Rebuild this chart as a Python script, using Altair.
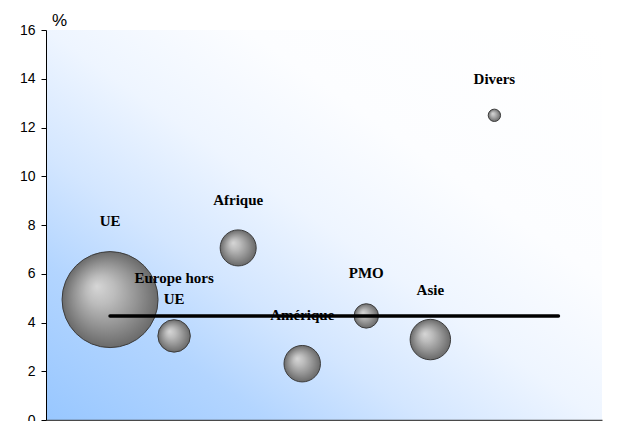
import altair as alt
import pandas as pd

# ---- data ----
regions = ["UE", "Europe hors UE", "Afrique", "Amérique", "PMO", "Asie", "Divers"]
labels = ["UE", "Europe hors\nUE", "Afrique", "Amérique", "PMO", "Asie", "Divers"]
x_index = [1, 2, 3, 4, 5, 6, 7]
growth = [4.94, 3.45, 7.06, 2.31, 4.27, 3.30, 12.50]
weight = [60.3, 6.9, 8.5, 8.7, 3.9, 10.7, 1.0]
label_y = [8.15, 5.82, 9.04, 4.29, 6.05, 5.35, 13.97]
avg_value = [4.27]
avg_start = [1]
avg_end = [8]
y_ticks = [0, 2, 4, 6, 8, 10, 12, 14, 16]

df = pd.DataFrame({
    "region": regions,
    "label": labels,
    "x": x_index,
    "growth": growth,
    "weight": weight,
    "label_y": label_y,
})
df_avg = pd.DataFrame({"avg": avg_value, "start": avg_start, "end": avg_end})

W, H = 556, 390
xscale = alt.Scale(domain=[0, 8.68], nice=False, zero=False)
yscale = alt.Scale(domain=[0, 16], nice=False)

bg_gradient = {
    "gradient": "linear", "x1": 0, "y1": 1, "x2": 1, "y2": 0,
    "stops": [
        {"offset": 0.0, "color": "#98c7ff"},
        {"offset": 0.2, "color": "#b3d5ff"},
        {"offset": 0.34, "color": "#d3e6ff"},
        {"offset": 0.5, "color": "#eef5ff"},
        {"offset": 0.68, "color": "#fcfdff"},
        {"offset": 1.0, "color": "#ffffff"},
    ],
}
ball_gradient = {
    "gradient": "radial", "x1": 0.36, "y1": 0.36, "r1": 0.0,
    "x2": 0.5, "y2": 0.5, "r2": 0.5,
    "stops": [
        {"offset": 0.0, "color": "#d6d6d6"},
        {"offset": 0.3, "color": "#bcbcbc"},
        {"offset": 0.65, "color": "#949494"},
        {"offset": 1.0, "color": "#6a6a6a"},
    ],
}

background = alt.Chart(pd.DataFrame({"d": [0]})).mark_rect(
    fill=bg_gradient, strokeWidth=0
).encode(
    x=alt.value(0), x2=alt.value(W), y=alt.value(0), y2=alt.value(H)
)

bubbles = alt.Chart(df).mark_circle(
    fill=ball_gradient, stroke="#3c3c3c", strokeWidth=1, opacity=1
).encode(
    x=alt.X("x:Q", scale=xscale,
            axis=alt.Axis(labels=False, ticks=False, title=None, grid=False,
                          domainColor="#4a4a4a", domainWidth=1.5, zindex=1)),
    y=alt.Y("growth:Q", scale=yscale,
            axis=alt.Axis(values=y_ticks, title="%", titleAngle=0, titleX=13, titleY=-10,
                          titleAlign="center", titleBaseline="middle",
                          titleFont="Liberation Sans", titleFontSize=17,
                          titleFontWeight="normal", titleColor="black",
                          labelFont="Liberation Sans", labelFontSize=14, labelColor="black",
                          tickColor="black", tickSize=5, domainColor="black",
                          grid=False, labelPadding=6, zindex=1)),
    size=alt.Size("weight:Q", scale=alt.Scale(range=[0, 9216], zero=True), legend=None),
)

texts = alt.Chart(df).mark_text(
    font="Liberation Serif", fontWeight="bold", fontSize=15, color="black",
    lineBreak="\n", lineHeight=21, align="center", baseline="middle"
).encode(
    x=alt.X("x:Q", scale=xscale),
    y=alt.Y("label_y:Q", scale=yscale),
    text="label:N",
)

avg_line = alt.Chart(df_avg).mark_rule(
    color="black", strokeWidth=3.5, strokeCap="round"
).encode(
    x=alt.X("start:Q", scale=xscale),
    x2="end:Q",
    y=alt.Y("avg:Q", scale=yscale),
)

chart = alt.layer(background, bubbles, texts, avg_line).properties(
    width=W, height=H,
    autosize=alt.AutoSizeParams(type="none"),
    padding={"left": 38, "top": 22, "right": 10, "bottom": 12},
    background="white",
).configure_view(stroke=None)

chart.save("out.html", embed_options={"renderer": "svg", "actions": False})
